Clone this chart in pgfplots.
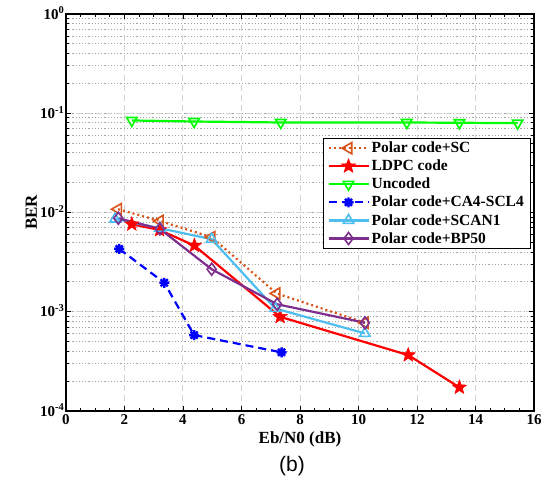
\documentclass[border=0pt]{standalone}
\usepackage{fontspec}
\setmainfont{Liberation Serif}
\newfontfamily\arialfont{Liberation Sans}
\usepackage{pgfplots}
\pgfplotsset{compat=1.18}
\usetikzlibrary{plotmarks}

\definecolor{mOrange}{rgb}{0.85,0.325,0.098}
\definecolor{mLBlue}{rgb}{0.301,0.745,0.933}
\definecolor{mPurple}{rgb}{0.494,0.184,0.556}

\pgfdeclareplotmark{fivestar}{%
  \pgfpathmoveto{\pgfpointpolar{90}{\pgfplotmarksize}}%
  \pgfpathlineto{\pgfpointpolar{126}{0.42\pgfplotmarksize}}%
  \pgfpathlineto{\pgfpointpolar{162}{\pgfplotmarksize}}%
  \pgfpathlineto{\pgfpointpolar{198}{0.42\pgfplotmarksize}}%
  \pgfpathlineto{\pgfpointpolar{234}{\pgfplotmarksize}}%
  \pgfpathlineto{\pgfpointpolar{270}{0.42\pgfplotmarksize}}%
  \pgfpathlineto{\pgfpointpolar{306}{\pgfplotmarksize}}%
  \pgfpathlineto{\pgfpointpolar{342}{0.42\pgfplotmarksize}}%
  \pgfpathlineto{\pgfpointpolar{18}{\pgfplotmarksize}}%
  \pgfpathlineto{\pgfpointpolar{54}{0.42\pgfplotmarksize}}%
  \pgfpathclose
  \pgfusepathqfillstroke}
\pgfdeclareplotmark{mstar}{%
  \pgfpathmoveto{\pgfqpoint{-\pgfplotmarksize}{0pt}}%
  \pgfpathlineto{\pgfqpoint{\pgfplotmarksize}{0pt}}%
  \pgfpathmoveto{\pgfqpoint{0pt}{-\pgfplotmarksize}}%
  \pgfpathlineto{\pgfqpoint{0pt}{\pgfplotmarksize}}%
  \pgfpathmoveto{\pgfpointpolar{45}{\pgfplotmarksize}}%
  \pgfpathlineto{\pgfpointpolar{225}{\pgfplotmarksize}}%
  \pgfpathmoveto{\pgfpointpolar{135}{\pgfplotmarksize}}%
  \pgfpathlineto{\pgfpointpolar{315}{\pgfplotmarksize}}%
  \pgfusepathqstroke}

\begin{document}
\begin{tikzpicture}
\begin{axis}[
  name=ax,
  scale only axis,
  width=468pt, height=397pt,
  xmin=0, xmax=16,
  ymode=log, ymin=1e-4, ymax=1,
  xtick={0,2,...,16},
  minor x tick num=3,
  ytick={1e-4,1e-3,1e-2,1e-1,1},
  yticklabels={10\textsuperscript{-4},10\textsuperscript{-3},10\textsuperscript{-2},10\textsuperscript{-1},10\textsuperscript{0}},
  /pgf/number format/assume math mode=true,
  ticklabel style={font=\fontsize{15}{15}\selectfont\bfseries},
  xticklabel style={inner sep=1pt, yshift=-2.5pt},
  yticklabel style={inner sep=1.5pt, yshift=1pt},
  tick align=inside,
  major tick length=5pt,
  minor tick length=3pt,
  tick style={black, line width=0.8pt},
  axis line style={line width=1.3pt},
  xmajorgrids=true,
  ymajorgrids=true,
  yminorgrids=true,
  major grid style={gray!35, line width=1pt, dash pattern=on 6pt off 4pt},
  minor grid style={gray!70, line width=1pt, dash pattern=on 1.2pt off 2pt},
  xlabel={Eb/N0 (dB)},
  ylabel={BER},
  label style={font=\fontsize{17}{17}\selectfont\bfseries},
  xlabel style={yshift=-2pt},
  ylabel style={yshift=-2pt},
  legend style={at={(0.9915,0.688)}, anchor=north east,
    font=\fontsize{15.5}{18}\selectfont\bfseries,
    draw=black, fill=white,
    inner xsep=4pt, inner ysep=2pt, row sep=1.8pt,
    cells={anchor=west}},
  legend image code/.code={%
    \draw[mark repeat=2,mark phase=2] plot coordinates {(0pt,0pt) (20pt,0pt) (40pt,0pt)};},
  legend cell align=left,
]
\addplot[color=mOrange, line width=2.2pt, dash pattern=on 2pt off 3pt,
  mark=triangle, mark size=6.5pt, mark options={solid, rotate=90, line width=1.6pt}]
  coordinates {(1.78,0.0108) (3.21,0.00822) (4.98,0.00564) (7.2,0.00153) (10.22,0.000775)};
\addlegendentry{Polar code+SC}
\addplot[color=red, line width=2.2pt,
  mark=fivestar, mark size=7.5pt, mark options={solid, fill=red, line width=0.5pt}]
  coordinates {(2.25,0.00762) (3.2,0.00667) (4.39,0.00464) (7.32,0.00089) (11.7,0.000366) (13.45,0.000173)};
\addlegendentry{LDPC code}
\addplot[color=green, line width=2.2pt,
  mark=triangle, mark size=6pt, mark options={solid, rotate=180, line width=1.6pt}]
  coordinates {(2.25,0.0846) (4.38,0.0826) (7.34,0.0807) (11.65,0.0807) (13.45,0.0802) (15.44,0.0796)};
\addlegendentry{Uncoded}
\addplot[color=blue, line width=2.2pt, dash pattern=on 8pt off 5pt,
  mark=mstar, mark size=5pt, mark options={solid, line width=2.4pt}]
  coordinates {(1.82,0.0043) (3.36,0.00196) (4.38,0.000582) (7.37,0.00039)};
\addlegendentry{Polar code+CA4-SCL4}
\addplot[color=mLBlue, line width=2.2pt,
  mark=triangle, mark size=6pt, mark options={solid, line width=1.6pt}]
  coordinates {(1.68,0.0086) (3.21,0.00695) (4.98,0.00538) (7.15,0.00108) (10.22,0.000605)};
\addlegendentry{Polar code+SCAN1}
\addplot[color=mPurple, line width=2.2pt,
  mark=diamond, mark size=6pt, mark options={solid, line width=1.6pt}]
  coordinates {(1.79,0.00875) (3.21,0.00684) (4.98,0.00268) (7.22,0.00119) (10.22,0.000775)};
\addlegendentry{Polar code+BP50}
\end{axis}
\node[font=\arialfont\fontsize{21}{21}\selectfont, anchor=center] at ([xshift=226pt,yshift=-55pt]ax.south west) {(b)};
\path ([xshift=-66pt,yshift=-77pt]ax.south west) rectangle ([xshift=10pt,yshift=14pt]ax.north east);
\end{tikzpicture}
\end{document}
